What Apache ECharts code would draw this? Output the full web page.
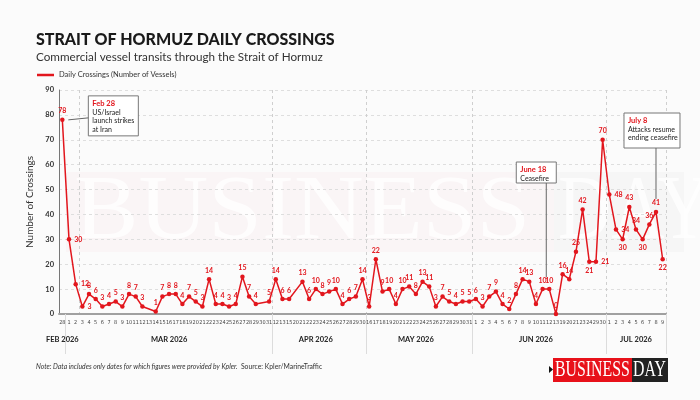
<!DOCTYPE html>
<html>
<head>
<meta charset="utf-8">
<script src="https://cdn.jsdelivr.net/npm/echarts@6/dist/echarts.min.js"></script>
<style>
  html, body { margin: 0; background: #fbfbfb; }
  #chart { width: 700px; height: 400px; }
</style>
</head>
<body>
<div id="chart"></div>
<script>
// daily crossings, one array per month (null = no figure for that day)
const febDays = ['28']
const febVals = [78]
const marDays = ['1','2','3','4','5','6','7','8','9','10','11','12','13','14','15','16','17','18','19','20','21','22','23','24','25','26','27','28','29','30','31']
const marVals = [30,12,3,8,6,3,4,5,3,8,7,3,null,1,7,8,8,4,7,5,3,14,4,4,3,4,15,7,4,null,5]
const aprDays = ['12','13','15','20','21','22','23','24','25','26','27','28','29','30']
const aprVals = [14,6,6,null,13,6,10,8,9,10,4,6,7,14]
const mayDays = ['16','17','18','19','20','21','22','23','24','25','26','27','28','29','30','31']
const mayVals = [3,22,9,10,4,10,11,8,13,11,3,7,5,4,5,5]
const junDays = ['1','2','3','4','5','6','7','8','9','10','11','12','13','19','20','21','23','24','29','30']
const junVals = [6,3,7,9,4,2,8,14,13,4,10,10,0,16,14,25,42,21,21,70]
const julDays = ['1','2','3','4','5','6','7','8','9']
const julVals = [48,34,30,43,34,30,36,41,22]

const yTicks = [0,10,20,30,40,50,60,70,80,90]

const RED = '#e2161d'
const FONT = 'Lato, "Open Sans", sans-serif'

const months = [
  { key: 'Feb', name: 'FEB 2026', days: febDays, vals: febVals },
  { key: 'Mar', name: 'MAR 2026', days: marDays, vals: marVals },
  { key: 'Apr', name: 'APR 2026', days: aprDays, vals: aprVals },
  { key: 'May', name: 'MAY 2026', days: mayDays, vals: mayVals },
  { key: 'Jun', name: 'JUN 2026', days: junDays, vals: junVals },
  { key: 'Jul', name: 'JUL 2026', days: julDays, vals: julVals }
]

// where a value label sits when not above its point
const labelPos = {
  'Mar 1': 'right', 'Mar 2': 'right', 'Mar 3': 'right',
  'Jun 24': 'bottom', 'Jun 29': 'right',
  'Jul 1': 'right', 'Jul 2': 'right', 'Jul 3': 'bottom',
  'Jul 6': 'bottom', 'Jul 9': 'bottom'
}

const cats = [], vals = [], keys = []
const monthStart = new Set()
const monthMid = {}
months.forEach(m => {
  monthStart.add(cats.length)
  monthMid[cats.length + Math.floor((m.days.length - 1) / 2)] = m.name
  m.days.forEach((d, i) => {
    cats.push(d)
    vals.push(m.vals[i])
    keys.push(m.key + ' ' + d)
  })
})
const idxOf = k => keys.indexOf(k)

// dashed guides inside the plot
const splitIdx = new Set([idxOf('Mar 3'), idxOf('Apr 12'), idxOf('May 16'), idxOf('Jun 1'), idxOf('Jul 1')])

const seriesData = vals.map((v, i) => {
  if (v == null) return '-'
  const pos = labelPos[keys[i]]
  return pos ? { value: v, label: { position: pos } } : v
})

const chart = echarts.init(document.getElementById('chart'))

chart.setOption({
  backgroundColor: '#fbfbfb',
  animation: false,
  textStyle: { fontFamily: FONT },
  title: {
    text: 'STRAIT OF HORMUZ DAILY CROSSINGS',
    subtext: 'Commercial vessel transits through the Strait of Hormuz',
    left: 31, top: 27, itemGap: 3,
    textStyle: { fontFamily: FONT, fontSize: 16, fontWeight: 900, color: '#1a1a1a' },
    subtextStyle: { fontFamily: FONT, fontSize: 11.7, color: '#333' }
  },
  legend: {
    left: 32, top: 66,
    icon: 'rect', itemWidth: 17, itemHeight: 2.5, itemGap: 5,
    textStyle: { fontSize: 7.5, color: '#333', fontFamily: FONT },
    data: ['Daily Crossings (Number of Vessels)']
  },
  grid: { left: 59, right: 34, top: 90, bottom: 86 },
  xAxis: [{
    type: 'category', data: cats, boundaryGap: true,
    axisLine: { lineStyle: { color: '#a0a0a0', width: 2 } },
    axisTick: { show: false },
    axisLabel: { interval: 0, fontSize: 5.5, color: '#444', margin: 6, fontFamily: '"Liberation Sans Narrow", "DejaVu Sans Condensed", sans-serif' },
    splitLine: { show: true, interval: i => splitIdx.has(i), lineStyle: { color: '#cfcfcf', type: [3, 3], width: 1 } }
  }, {
    type: 'category', data: cats, boundaryGap: true, position: 'bottom',
    axisLine: { show: false },
    axisTick: { show: true, interval: i => monthStart.has(i) && i > 0, length: 40, lineStyle: { color: '#dcdcdc' } },
    axisLabel: {
      interval: 0, margin: 22, fontSize: 7.5, fontWeight: 'bold', color: '#222',
      formatter: (v, i) => monthMid[i] || ''
    }
  }],
  yAxis: {
    type: 'value', min: 0, max: 90, interval: 10,
    name: 'Number of Crossings', nameLocation: 'middle', nameGap: 16,
    nameTextStyle: { fontSize: 10, color: '#333' },
    axisLine: { show: true, lineStyle: { color: '#777', width: 1 } },
    axisTick: { show: false },
    axisLabel: { fontSize: 7.5, color: '#333', fontWeight: 'bold', margin: 5, formatter: v => yTicks.includes(v) ? v : '' },
    splitLine: { lineStyle: { color: '#dedede', type: [3, 3] } }
  },
  series: [{
    name: 'Daily Crossings (Number of Vessels)',
    type: 'line', data: seriesData, connectNulls: true,
    symbol: 'circle', symbolSize: 4.5,
    lineStyle: { color: RED, width: 1.5 },
    itemStyle: { color: RED },
    label: { show: true, position: 'top', distance: 3, color: RED, fontSize: 7, fontWeight: 'bold' },
    z: 5
  }]
})

// annotations, watermark, footnote and logo
function toPx(key) {
  const i = idxOf(key)
  return chart.convertToPixel({ xAxisIndex: 0, yAxisIndex: 0 }, [i, vals[i]])
}

function noteBox(x, y, w, h, head, lines) {
  const children = [
    { type: 'rect', shape: { x: 0, y: 0, width: w, height: h }, style: { fill: '#fff', stroke: '#777', lineWidth: 1 } },
    { type: 'text', x: 4, y: 3.5, style: { text: head, fill: RED, font: 'bold 7.5px ' + FONT } }
  ]
  lines.forEach((t, i) => {
    children.push({ type: 'text', x: 4, y: 13 + i * 8.5, style: { text: t, fill: '#222', font: '7px ' + FONT } })
  })
  return { type: 'group', x, y, children, z: 20 }
}

const pFeb = toPx('Feb 28')
const pJun = toPx('Jun 12')
const pJul = toPx('Jul 8')
const junX = pJun[0] - 3

chart.setOption({
  graphic: [
    // faint masthead watermark behind the plot
    { type: 'rect', shape: { x: 66, y: 172, width: 488, height: 80 }, style: { fill: 'rgba(225,20,30,0.025)' }, z: -10 },
    { type: 'text', x: 74, y: 168, scaleX: 1.05, style: { text: 'BUSINESS', fill: 'rgba(255,255,255,0.75)', font: '92px "Liberation Serif", serif' }, z: -9 },
    { type: 'rect', shape: { x: 554, y: 172, width: 130, height: 80 }, style: { fill: 'rgba(0,0,0,0.018)' }, z: -10 },
    { type: 'text', x: 558, y: 168, scaleX: 0.8, style: { text: 'DAY', fill: 'rgba(255,255,255,0.75)', font: '92px "Liberation Serif", serif' }, z: -9 },

    noteBox(pFeb[0] + 26, pFeb[1] - 24, 50, 40, 'Feb 28', ['US/Israel', 'launch strikes', 'at Iran']),
    { type: 'line', shape: { x1: pFeb[0] + 6, y1: pFeb[1], x2: pFeb[0] + 26, y2: pFeb[1] - 2 }, style: { stroke: '#666', lineWidth: 1 }, z: 20 },

    noteBox(junX - 30, 162, 40, 21, 'June 18', ['Ceasefire']),
    { type: 'line', shape: { x1: junX, y1: 183, x2: junX, y2: pJun[1] - 12 }, style: { stroke: '#666', lineWidth: 1 }, z: 20 },

    noteBox(pJul[0] - 32, 113, 56, 35, 'July 8', ['Attacks resume', 'ending ceasefire']),
    { type: 'line', shape: { x1: pJul[0], y1: 148, x2: pJul[0], y2: pJul[1] - 13 }, style: { stroke: '#666', lineWidth: 1 }, z: 20 },

    {
      type: 'text', x: 36, y: 361,
      style: {
        text: '{i|Note: Data includes only dates for which figures were provided by Kpler.} {n|Source: Kpler/MarineTraffic}',
        rich: {
          i: { fontStyle: 'italic', fontSize: 6.8, fill: '#333', fontFamily: FONT },
          n: { fontSize: 6.8, fill: '#333', fontFamily: FONT }
        }
      }
    },

    // logo
    { type: 'polygon', shape: { points: [[549, 366], [553, 369.5], [549, 373]] }, style: { fill: '#111' } },
    { type: 'rect', shape: { x: 553, y: 358, width: 79, height: 24 }, style: { fill: '#e8111a' } },
    { type: 'rect', shape: { x: 632, y: 358, width: 36, height: 24 }, style: { fill: '#222' } },
    { type: 'text', x: 555, y: 358, scaleX: 0.66, style: { text: 'BUSINESS', fill: '#fff', font: '24px "Liberation Serif", serif' } },
    { type: 'text', x: 633, y: 358, scaleX: 0.66, style: { text: 'DAY', fill: '#fff', font: '24px "Liberation Serif", serif' } }
  ]
})
</script>
</body>
</html>
